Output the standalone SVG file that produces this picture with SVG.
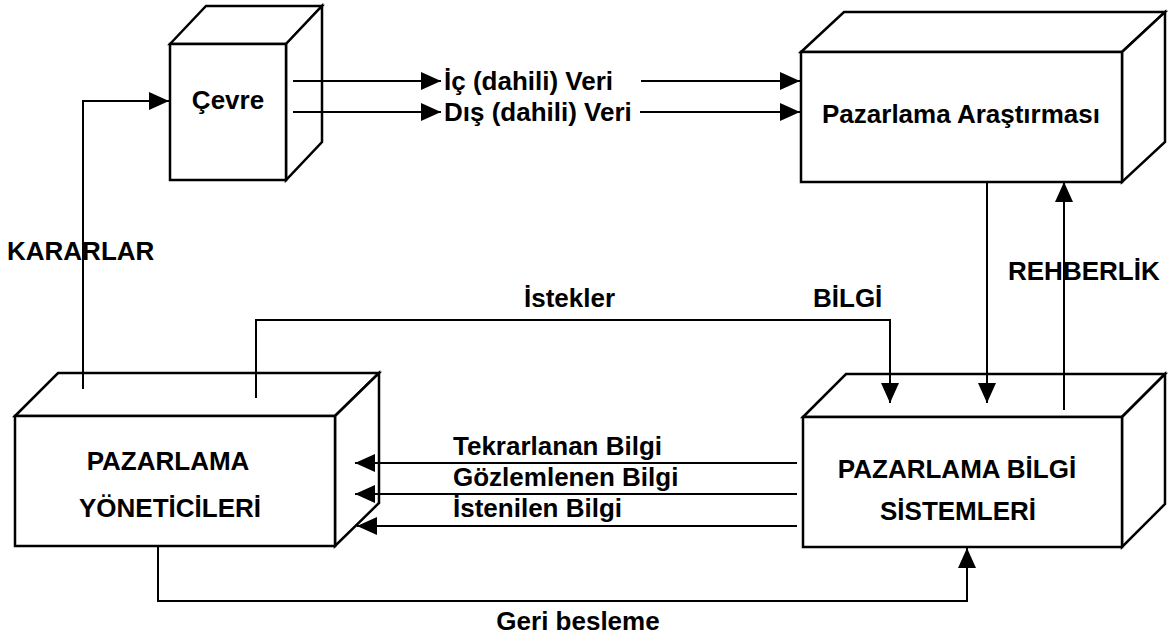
<svg xmlns="http://www.w3.org/2000/svg" width="1169" height="637" viewBox="0 0 1169 637">
  <defs>
    <style>
      .face { fill: #ffffff; stroke: #000000; stroke-width: 2.5; stroke-linejoin: miter; }
      .wire { fill: none; stroke: #000000; stroke-width: 2; }
      .lbl { font-family: "Liberation Sans", Arial, sans-serif; font-weight: bold; font-size: 26px; fill: #000000; }
      .mid { text-anchor: middle; }
    </style>
    <marker id="arrow" viewBox="0 0 20 18" refX="20" refY="9" markerWidth="20" markerHeight="18" markerUnits="userSpaceOnUse" orient="auto">
      <path d="M0,0 L20,9 L0,18 z" fill="#000000"/>
    </marker>
  </defs>

  <rect width="1169" height="637" fill="#ffffff"/>

  <!-- Çevre cube -->
  <g id="cevre">
    <polygon class="face" points="170,44 206,6 322,6 286,44"/>
    <polygon class="face" points="286,44 322,6 322,142 286,180"/>
    <rect class="face" x="170" y="44" width="116" height="136"/>
    <text class="lbl mid" x="228" y="109">Çevre</text>
  </g>

  <!-- Pazarlama Araştırması cube -->
  <g id="arastirma">
    <polygon class="face" points="801,52 844,12 1165,12 1122,52"/>
    <polygon class="face" points="1122,52 1165,12 1165,142 1122,182"/>
    <rect class="face" x="801" y="52" width="321" height="130"/>
    <text class="lbl mid" x="961" y="123">Pazarlama Araştırması</text>
  </g>

  <!-- Pazarlama Yöneticileri cube -->
  <g id="yoneticiler">
    <polygon class="face" points="15,416 58,373 379,373 335,416"/>
    <polygon class="face" points="335,416 379,373 379,503 335,546"/>
    <rect class="face" x="15" y="416" width="320" height="130"/>
    <text class="lbl mid" x="168" y="470">PAZARLAMA</text>
    <text class="lbl mid" x="170" y="517">YÖNETİCİLERİ</text>
  </g>

  <!-- Pazarlama Bilgi Sistemleri cube -->
  <g id="bilgi-sistemleri">
    <polygon class="face" points="803,417 846,374 1165,374 1122,417"/>
    <polygon class="face" points="1122,417 1165,374 1165,504 1122,547"/>
    <rect class="face" x="803" y="417" width="319" height="130"/>
    <text class="lbl mid" x="957" y="478">PAZARLAMA BİLGİ</text>
    <text class="lbl mid" x="958" y="520">SİSTEMLERİ</text>
  </g>

  <!-- connectors -->
  <g id="connectors">
    <!-- decisions back to the environment -->
    <path class="wire" d="M83,389 V101 H169" marker-end="url(#arrow)"/>
    <!-- data from the environment -->
    <path class="wire" d="M293,81 H441" marker-end="url(#arrow)"/>
    <path class="wire" d="M641,81 H800" marker-end="url(#arrow)"/>
    <path class="wire" d="M293,112 H441" marker-end="url(#arrow)"/>
    <path class="wire" d="M640,112 H800" marker-end="url(#arrow)"/>
    <!-- requests -->
    <path class="wire" d="M256,398 V320 H890 V403" marker-end="url(#arrow)"/>
    <!-- research to MIS and guidance back -->
    <path class="wire" d="M987,182 V403" marker-end="url(#arrow)"/>
    <path class="wire" d="M1064,410 V182" marker-end="url(#arrow)"/>
    <!-- information to managers -->
    <path class="wire" d="M797,463 H355" marker-end="url(#arrow)"/>
    <path class="wire" d="M797,494 H355" marker-end="url(#arrow)"/>
    <path class="wire" d="M797,526 H357" marker-end="url(#arrow)"/>
    <!-- feedback -->
    <path class="wire" d="M158,546 V601 H967 V548" marker-end="url(#arrow)"/>
  </g>

  <!-- connector labels -->
  <g id="labels">
    <text class="lbl" x="7" y="260">KARARLAR</text>
    <text class="lbl" x="444" y="90">İç (dahili) Veri</text>
    <text class="lbl" x="444" y="121">Dış (dahili) Veri</text>
    <text class="lbl" x="524" y="307">İstekler</text>
    <text class="lbl" x="813" y="307">BİLGİ</text>
    <text class="lbl" x="1008" y="280">REHBERLİK</text>
    <text class="lbl" x="453" y="455">Tekrarlanan Bilgi</text>
    <text class="lbl" x="453" y="486">Gözlemlenen Bilgi</text>
    <text class="lbl" x="453" y="517">İstenilen Bilgi</text>
    <text class="lbl mid" x="578" y="630">Geri besleme</text>
  </g>
</svg>
